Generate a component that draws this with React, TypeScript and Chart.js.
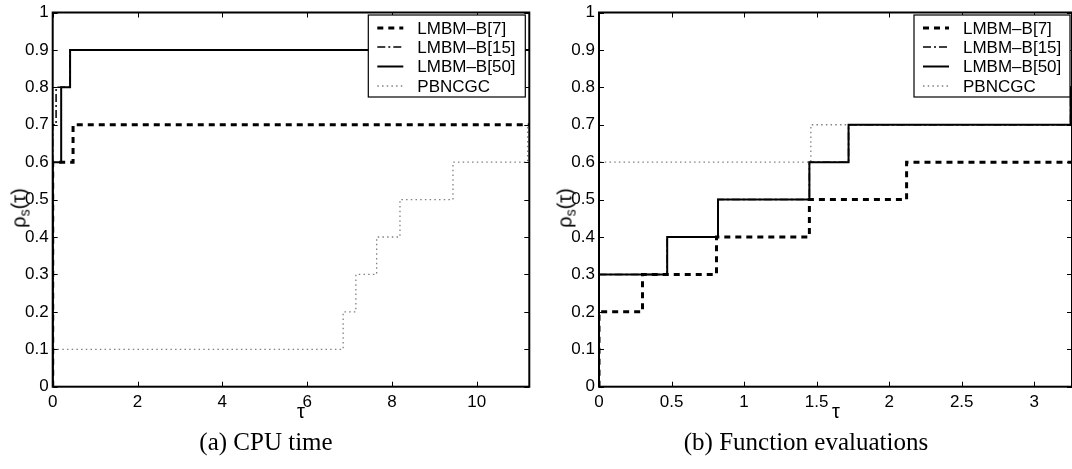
import React, { useEffect, useRef } from 'react';
import { Chart, registerables } from 'chart.js';

Chart.register(...registerables);

// ---- data ----
const seriesLabels = ['LMBM–B[7]', 'LMBM–B[15]', 'LMBM–B[50]', 'PBNCGC'];
const yTicks = [0, 0.1, 0.2, 0.3, 0.4, 0.5, 0.6, 0.7, 0.8, 0.9, 1];

// (a) CPU time
const cpuXTicks = [0, 2, 4, 6, 8, 10];
const cpuXMax = 11.24;
const cpuTau7 = [0, 0, 0.48, 11.24];
const cpuRho7 = [0, 0.6, 0.7, 0.7];
const cpuTau15 = [0, 0, 0.08, 0.41, 11.24];
const cpuRho15 = [0, 0.7, 0.8, 0.9, 0.9];
const cpuTau50 = [0, 0, 0.2, 0.41, 11.24];
const cpuRho50 = [0, 0.6, 0.8, 0.9, 0.9];
const cpuTauPb = [0, 0, 6.85, 7.15, 7.64, 8.19, 9.44, 11.2, 11.24];
const cpuRhoPb = [0, 0.1, 0.2, 0.3, 0.4, 0.5, 0.6, 0.7, 0.7];

// (b) Function evaluations
const feXTicks = [0, 0.5, 1, 1.5, 2, 2.5, 3];
const feXMax = 3.26;
const feTau7 = [0, 0, 0.3, 0.81, 1.45, 2.12, 3.26];
const feRho7 = [0, 0.2, 0.3, 0.4, 0.5, 0.6, 0.6];
const feTau15 = [0, 0, 0.47, 0.82, 1.45, 1.72, 3.25, 3.26];
const feRho15 = [0, 0.3, 0.4, 0.5, 0.6, 0.7, 0.8, 0.8];
const feTau50 = [0, 0, 0.47, 0.82, 1.45, 1.72, 3.25, 3.26];
const feRho50 = [0, 0.3, 0.4, 0.5, 0.6, 0.7, 0.8, 0.8];
const feTauPb = [0, 0, 1.46, 3.26];
const feRhoPb = [0, 0.6, 0.7, 0.7];

// ---- styles ----
const styles = [
  { color: '#000', width: 3, dash: [6, 5] },
  { color: '#000', width: 1.5, dash: [8, 3, 2, 3] },
  { color: '#000', width: 2, dash: [] as number[] },
  { color: '#808080', width: 1.3, dash: [1.5, 3.2] },
];

const FONT = '"Liberation Sans", Arial, sans-serif';

function pts(xs: number[], ys: number[]) {
  return xs.map((x, i) => ({ x, y: ys[i] }));
}

type Props = {
  left: number;
  width: number;
  yAxisWidth: number;
  padRight: number;
  xMax: number;
  xTicks: number[];
  series: { x: number[]; y: number[] }[];
  legendRightGap: number;
  legendWidth: number;
};

function PerfChart(p: Props) {
  const ref = useRef<HTMLCanvasElement | null>(null);
  useEffect(() => {
    if (!ref.current) return;
    const drawOrder = [0, 2, 1, 3];
    const datasets = drawOrder.map((i) => ({
      label: seriesLabels[i],
      data: pts(p.series[i].x, p.series[i].y),
      stepped: 'before' as const,
      borderColor: styles[i].color,
      borderWidth: styles[i].width,
      borderDash: styles[i].dash,
      pointRadius: 0,
      fill: false,
      tension: 0,
    }));

    const boxPlugin = {
      id: 'boxTicks',
      afterDraw(chart: any) {
        const { ctx, chartArea: a, scales } = chart;
        ctx.save();
        ctx.strokeStyle = '#000';
        ctx.lineWidth = 1;
        ctx.setLineDash([]);
        const tl = 5;
        p.xTicks.forEach((v) => {
          const x = Math.round(scales.x.getPixelForValue(v)) + 0.5;
          ctx.beginPath();
          ctx.moveTo(x, a.bottom);
          ctx.lineTo(x, a.bottom - tl);
          ctx.moveTo(x, a.top);
          ctx.lineTo(x, a.top + tl);
          ctx.stroke();
        });
        yTicks.forEach((v) => {
          const y = Math.round(scales.y.getPixelForValue(v)) + 0.5;
          ctx.beginPath();
          ctx.moveTo(a.left, y);
          ctx.lineTo(a.left + tl, y);
          ctx.moveTo(a.right, y);
          ctx.lineTo(a.right - tl, y);
          ctx.stroke();
        });
        ctx.lineWidth = 2;
        ctx.strokeRect(a.left, a.top, a.right - a.left, a.bottom - a.top);

        // legend
        const bw = p.legendWidth;
        const bh = 82;
        const bx = a.right - p.legendRightGap - bw;
        const by = 15;
        ctx.fillStyle = '#fff';
        ctx.fillRect(bx, by, bw, bh);
        ctx.lineWidth = 1.2;
        ctx.strokeStyle = '#000';
        ctx.strokeRect(bx, by, bw, bh);
        const rows = [13, 32, 51.5, 71];
        ctx.font = `17px ${FONT}`;
        ctx.textBaseline = 'middle';
        ctx.textAlign = 'left';
        seriesLabels.forEach((lab, i) => {
          const yy = by + rows[i];
          ctx.beginPath();
          ctx.strokeStyle = styles[i].color;
          ctx.lineWidth = styles[i].width;
          ctx.setLineDash(styles[i].dash);
          ctx.moveTo(bx + 9, yy);
          ctx.lineTo(bx + 35, yy);
          ctx.stroke();
          ctx.setLineDash([]);
          ctx.fillStyle = '#000';
          ctx.fillText(lab, bx + 49, yy + 1);
        });
        ctx.restore();
      },
    };

    const chart = new Chart(ref.current, {
      type: 'line',
      data: { datasets },
      options: {
        animation: false,
        responsive: false,
        maintainAspectRatio: false,
        devicePixelRatio: 1,
        layout: { padding: { top: 10.7, right: p.padRight, left: 0, bottom: 0 } },
        plugins: { legend: { display: false }, tooltip: { enabled: false }, title: { display: false } },
        scales: {
          x: {
            type: 'linear',
            min: 0,
            max: p.xMax,
            grid: { display: false, drawTicks: false },
            border: { display: false },
            afterBuildTicks: (s: any) => {
              s.ticks = p.xTicks.map((v) => ({ value: v }));
            },
            afterFit: (s: any) => {
              s.height = 33.3;
            },
            ticks: {
              padding: 5,
              color: '#000',
              font: { family: FONT, size: 17 },
              maxRotation: 0,
              autoSkip: false,
              callback: (v: any) => String(v),
            },
          },
          y: {
            type: 'linear',
            min: 0,
            max: 1,
            grid: { display: false, drawTicks: false },
            border: { display: false },
            afterBuildTicks: (s: any) => {
              s.ticks = yTicks.map((v) => ({ value: v }));
            },
            afterFit: (s: any) => {
              s.width = p.yAxisWidth;
            },
            ticks: {
              padding: 4,
              color: '#000',
              font: { family: FONT, size: 17, lineHeight: 1 },
              autoSkip: false,
              callback: (v: any) => String(Math.round(Number(v) * 10) / 10),
            },
          },
        },
      },
      plugins: [boxPlugin],
    } as any);
    return () => chart.destroy();
  }, []);
  return (
    <canvas
      ref={ref}
      width={p.width}
      height={420}
      style={{ position: 'absolute', left: p.left, top: 0, width: p.width, height: 420 }}
    />
  );
}

const labelStyle: React.CSSProperties = {
  position: 'absolute',
  fontFamily: FONT,
  fontSize: 20,
  color: '#000',
  whiteSpace: 'nowrap',
  lineHeight: 1,
};

function YLabel({ cx, cy }: { cx: number; cy: number }) {
  return (
    <div
      style={{
        ...labelStyle,
        left: cx,
        top: cy,
        transform: 'translate(-50%, -50%) rotate(-90deg)',
      }}
    >
      ρ<sub style={{ fontSize: 14, verticalAlign: -4 }}>s</sub>(τ)
    </div>
  );
}

const captionStyle: React.CSSProperties = {
  position: 'absolute',
  fontFamily: '"Liberation Serif", "DejaVu Serif", serif',
  fontSize: 25,
  color: '#000',
  whiteSpace: 'nowrap',
  transform: 'translate(-50%, -50%)',
  lineHeight: 1,
};

export default function App() {
  return (
    <div style={{ position: 'absolute', left: 0, top: 0, width: 1072, height: 469, background: '#fff', overflow: 'hidden' }}>
      <PerfChart
        left={0}
        width={540}
        yAxisWidth={52.7}
        padRight={10.7}
        xMax={cpuXMax}
        xTicks={cpuXTicks}
        series={[
          { x: cpuTau7, y: cpuRho7 },
          { x: cpuTau15, y: cpuRho15 },
          { x: cpuTau50, y: cpuRho50 },
          { x: cpuTauPb, y: cpuRhoPb },
        ]}
        legendRightGap={4}
        legendWidth={157}
      />
      <PerfChart
        left={540}
        width={532}
        yAxisWidth={59}
        padRight={0}
        xMax={feXMax}
        xTicks={feXTicks}
        series={[
          { x: feTau7, y: feRho7 },
          { x: feTau15, y: feRho15 },
          { x: feTau50, y: feRho50 },
          { x: feTauPb, y: feRhoPb },
        ]}
        legendRightGap={2}
        legendWidth={156}
      />
      <YLabel cx={20} cy={208} />
      <YLabel cx={566} cy={208} />
      <div style={{ ...labelStyle, left: 301, top: 411, transform: 'translate(-50%, -50%)' }}>τ</div>
      <div style={{ ...labelStyle, left: 836, top: 411, transform: 'translate(-50%, -50%)' }}>τ</div>
      <div style={{ ...captionStyle, left: 266, top: 441 }}>(a) CPU time</div>
      <div style={{ ...captionStyle, left: 806, top: 441 }}>(b) Function evaluations</div>
    </div>
  );
}
